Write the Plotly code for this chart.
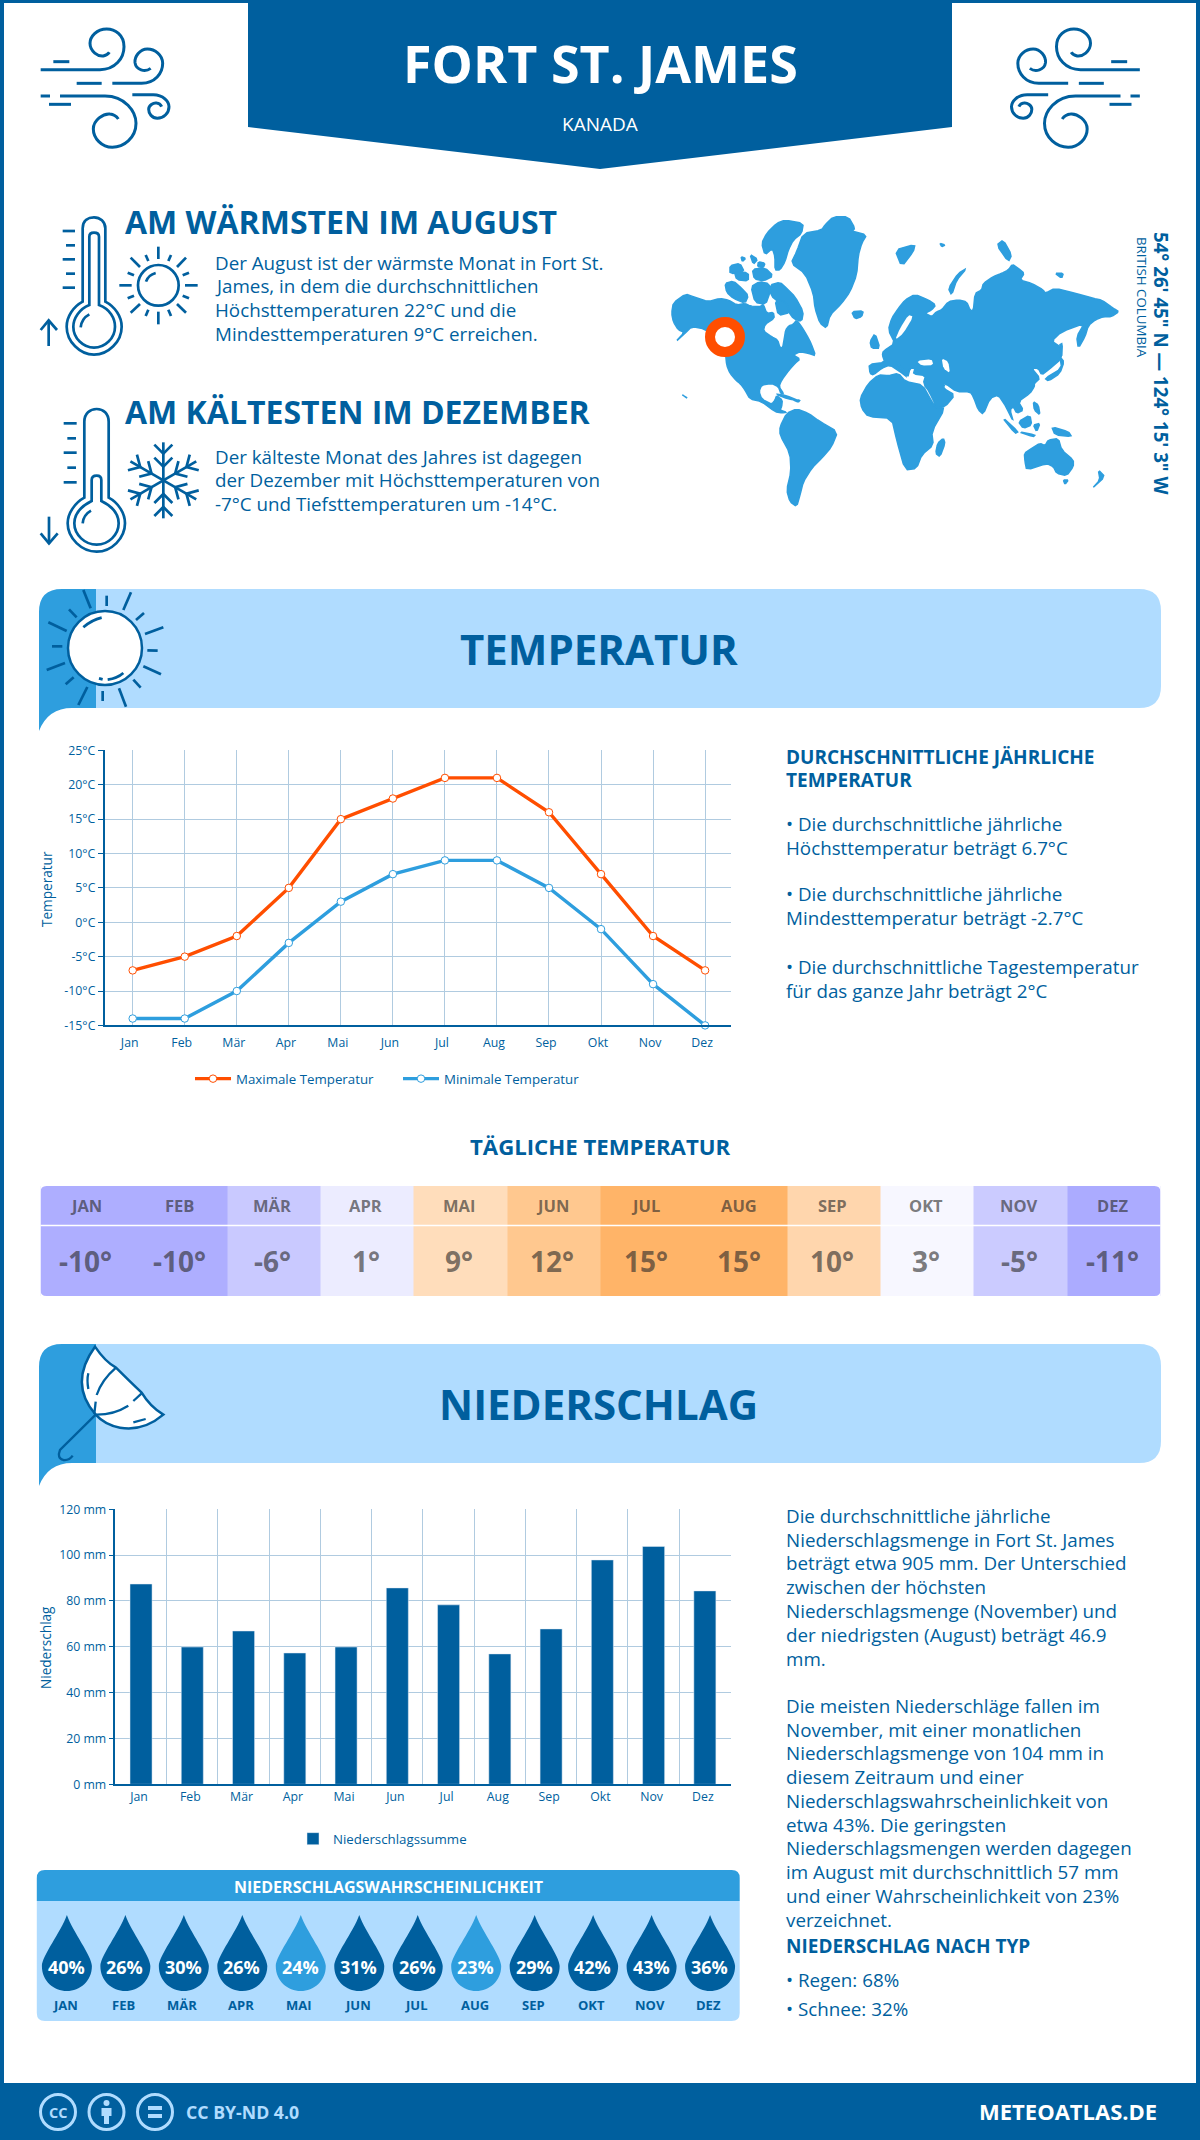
import re
import math
import plotly.graph_objects as go

# ---------- data ----------
MONTHS = ["Jan", "Feb", "Mär", "Apr", "Mai", "Jun", "Jul", "Aug", "Sep", "Okt", "Nov", "Dez"]
MONTHS_UP = ["JAN", "FEB", "MÄR", "APR", "MAI", "JUN", "JUL", "AUG", "SEP", "OKT", "NOV", "DEZ"]
TEMP_MAX = [-7, -5, -2, 5, 15, 18, 21, 21, 16, 7, -2, -7]
TEMP_MIN = [-14, -14, -10, -3, 3, 7, 9, 9, 5, -1, -9, -15]
TEMP_DAILY = [-10, -10, -6, 1, 9, 12, 15, 15, 10, 3, -5, -11]
PRECIP = [87.4, 59.9, 66.9, 57.3, 59.9, 85.7, 78.3, 56.9, 67.8, 97.9, 103.8, 84.4]
RAIN_PROB = [40, 26, 30, 26, 24, 31, 26, 23, 29, 42, 43, 36]
DAILY_SCALE_VALUES = [-11, -10, -6, -5, 1, 3, 9, 10, 12, 15]
DAILY_SCALE_COLORS = ["#ABABFF", "#AEAEFF", "#C9C9FF", "#CBCBFF", "#ECECFF", "#F7F7FF",
                      "#FFDDBB", "#FFD6AD", "#FFC88F", "#FFB468"]
TEMP_TICKS = [-15, -10, -5, 0, 5, 10, 15, 20, 25]
PRECIP_TICKS = [0, 20, 40, 60, 80, 100, 120]

WARM_LINES = ["Der August ist der wärmste Monat in Fort St.",
              "James, in dem die durchschnittlichen",
              "Höchsttemperaturen 22°C und die",
              "Mindesttemperaturen 9°C erreichen."]
COLD_LINES = ["Der kälteste Monat des Jahres ist dagegen",
              "der Dezember mit Höchsttemperaturen von",
              "-7°C und Tiefsttemperaturen um -14°C."]
TEMP_SIDE = [("DURCHSCHNITTLICHE JÄHRLICHE", 757, True), ("TEMPERATUR", 780, True),
             ("• Die durchschnittliche jährliche", 824, False),
             ("Höchsttemperatur beträgt 6.7°C", 848, False),
             ("• Die durchschnittliche jährliche", 894, False),
             ("Mindesttemperatur beträgt -2.7°C", 918, False),
             ("• Die durchschnittliche Tagestemperatur", 967, False),
             ("für das ganze Jahr beträgt 2°C", 991, False)]
PRECIP_SIDE = [("Die durchschnittliche jährliche", 1516), ("Niederschlagsmenge in Fort St. James", 1539.5),
               ("beträgt etwa 905 mm. Der Unterschied", 1563), ("zwischen der höchsten", 1587),
               ("Niederschlagsmenge (November) und", 1611), ("der niedrigsten (August) beträgt 46.9", 1634.5),
               ("mm.", 1658.5), ("Die meisten Niederschläge fallen im", 1706),
               ("November, mit einer monatlichen", 1729.5), ("Niederschlagsmenge von 104 mm in", 1753),
               ("diesem Zeitraum und einer", 1777), ("Niederschlagswahrscheinlichkeit von", 1801),
               ("etwa 43%. Die geringsten", 1824.5), ("Niederschlagsmengen werden dagegen", 1848),
               ("im August mit durchschnittlich 57 mm", 1872), ("und einer Wahrscheinlichkeit von 23%", 1896),
               ("verzeichnet.", 1919.5)]

# ---------- styling ----------
DARK = "#005F9E"
MID = "#2E9EDE"
LIGHT = "#B0DCFF"
ORANGE = "#FF4E00"
GRID = "#B0CBE0"
FONT = "Open Sans"
W, H = 1200, 2140
BODY = 18.8

shapes, notes = [], []


def add_path(path, fill=None, line=None, width=0):
    shapes.append(dict(type="path", path=path, xref="x4", yref="y4", layer="above", fillrule="nonzero",
                       fillcolor=fill if fill else "rgba(0,0,0,0)",
                       line=dict(color=line if line else "rgba(0,0,0,0)", width=width)))


def zoom_path(path, ox, oy):
    """Rescale a path sketched in 3x crop coordinates to page pixels."""
    idx = [0]

    def conv(m):
        v = float(m.group())
        o = ox if idx[0] % 2 == 0 else oy
        idx[0] += 1
        return f"{o + v / 3:.2f}"
    return re.sub(r"-?\d+\.?\d*", conv, path)


def mirror_path(path, axis):
    """Mirror a page-pixel path horizontally: x -> axis - x."""
    idx = [0]

    def conv(m):
        v = float(m.group())
        i = idx[0]
        idx[0] += 1
        return f"{axis - v:.2f}" if i % 2 == 0 else f"{v:.2f}"
    return re.sub(r"-?\d+\.?\d*", conv, path)


def rect(x0, y0, x1, y1, fill):
    add_path(f"M{x0},{y0}L{x1},{y0}L{x1},{y1}L{x0},{y1}Z", fill=fill)


def circle(cx, cy, r, fill=None, line=None, width=0):
    shapes.append(dict(type="circle", xref="x4", yref="y4", layer="above",
                       x0=cx - r, x1=cx + r, y0=cy - r, y1=cy + r,
                       fillcolor=fill if fill else "rgba(0,0,0,0)",
                       line=dict(color=line if line else "rgba(0,0,0,0)", width=width)))


def text(x, y, s, size, color=DARK, bold=False, anchor="left", angle=0):
    notes.append(dict(x=x, y=y, xref="x4", yref="y4", text=s, showarrow=False, xanchor=anchor, yanchor="middle",
                      textangle=angle, borderpad=0, borderwidth=0,
                      font=dict(family=FONT, size=size, color=color, weight=700 if bold else 400)))


# ---------- frame, header ----------
rect(0, 0, 4, H, DARK)
rect(W - 4, 0, W, H, DARK)
rect(0, 0, W, 3, DARK)
rect(0, 2083, W, H, DARK)
add_path("M248,0L952,0L952,127L600,169L248,127Z", fill=DARK)
text(600, 62, "FORT ST. JAMES", 52, "white", True, "center")
text(600, 124, "KANADA", 19, "white", False, "center")

WIND = ["M85,140L133,140",
        "M47,164L225,164C270,164 297,130 297,95C297,60 270,42 245,42C215,42 195,65 195,85C195,110 220,125 235,123Q248,120 253,112",
        "M155,205L230,205",
        "M262,205L350,205C390,205 413,175 413,145C413,120 390,102 367,102C345,102 328,125 330,143C333,165 360,173 377,160",
        "M47,243L75,243",
        "M105,243L240,243C300,243 333,290 333,325C333,370 295,397 262,397C230,397 205,370 205,342C205,315 235,295 255,297C268,298 275,305 280,312",
        "M72,268L138,268",
        "M322,239L385,239C415,239 432,260 432,275C432,295 415,310 397,310C380,310 371,295 371,283C371,272 385,262 395,264Q405,265 410,275"]
for p in WIND:
    px = zoom_path(p, 25, 15)
    add_path(px, line=DARK, width=3)
    add_path(mirror_path(px, 1180.5), line=DARK, width=3)

# ---------- thermometers and small icons ----------
ICON = [
    "M158,290L158,70C158,45 175,37 192,37C210,37 226,50 226,70L226,290C255,305 275,335 275,365C275,410 235,449 192,449C150,449 110,410 110,365C110,335 130,305 158,290Z",
    "M178,300L178,95Q178,83 192,83Q207,83 207,95L207,300C240,312 255,340 255,365C255,400 225,428 192,428C160,428 130,400 130,365C130,340 148,312 178,300Z",
    "M152,367Q155,340 178,328",
    "M98,78L135,78", "M108,121L135,121", "M98,163L135,163", "M108,206L135,206", "M98,248L135,248",
    "M56,423L56,346", "M32,375L56,346L81,375",
    "M385,125L385,162", "M385,320L385,358", "M268,241L305,241", "M465,241L503,241",
    "M302,158L330,186", "M468,158L441,186", "M302,323L330,297", "M468,323L441,297",
    "M347,150L355,168", "M423,150L415,168", "M293,203L312,211", "M477,203L458,211",
    "M293,280L312,272", "M477,280L458,272", "M355,314L347,333", "M415,314L423,333",
    "M348,230Q355,210 377,204",
    "M163,878L163,650C163,625 180,612 200,612C220,612 236,625 236,650L236,878C265,893 285,925 285,955C285,1000 245,1040 200,1040C155,1040 113,1000 113,955C113,925 135,893 163,878Z",
    "M185,888L185,825Q185,812 200,812Q214,812 214,825L214,888C245,903 266,925 266,955C266,990 235,1019 200,1019C165,1019 133,990 133,955C133,925 155,903 185,888Z",
    "M158,955Q160,930 183,917",
    "M101,655L140,655", "M112,700L138,700", "M101,743L140,743", "M112,788L138,788", "M101,832L140,832",
    "M57,935L57,1015", "M32,985L57,1015L83,985",
]
for p in ICON:
    add_path(zoom_path(p, 30, 205), line=DARK, width=2.7)
circle(30 + 385 / 3, 205 + 241 / 3, 61 / 3, line=DARK, width=2.7)


def rot(x, y, a):
    return x * math.cos(a) - y * math.sin(a), x * math.sin(a) + y * math.cos(a)


FLAKE_ARM = [[(0, 0), (0, -114)], [(-27, -107), (0, -80), (27, -107)], [(-27, -68), (0, -41), (27, -68)]]
for k in range(6):
    a = k * math.pi / 3
    for seg in FLAKE_ARM:
        pts = [rot(x, y, a) for x, y in seg]
        add_path("M" + "L".join(f"{30 + (400 + x) / 3:.2f},{205 + (826 + y) / 3:.2f}" for x, y in pts),
                 line=DARK, width=2.7)

text(125, 221, "AM WÄRMSTEN IM AUGUST", 32, DARK, True)
text(125, 411, "AM KÄLTESTEN IM DEZEMBER", 32, DARK, True)
for s, y in zip(WARM_LINES, [263, 286, 310, 334]):
    text(215, y, s, BODY)
for s, y in zip(COLD_LINES, [457, 480, 503.5]):
    text(215, y, s, BODY)

# ---------- world map ----------
LAND = [
    # North America
    "20,325 25,293 62,267 85,275 130,290 165,280 190,285 215,300 240,295 255,303 285,305 295,298 305,325 325,322 328,340 300,358 295,378 320,395 338,405 345,428 353,428 358,400 362,375 372,362 385,358 395,345 410,365 425,390 438,415 452,452 430,445 405,440 385,450 405,462 390,475 372,495 350,525 342,545 356,566 348,566 340,545 320,535 290,540 282,560 290,582 320,598 330,585 335,572 352,585 350,605 345,615 365,622 352,624 330,620 290,590 255,582 240,555 225,535 215,528 195,505 185,480 182,450 150,400 120,372 80,365 60,385 32,410 58,382 40,375 25,350",
    # Greenland
    "480,60 505,35 550,35 570,70 560,78 605,90 590,115 580,150 575,210 555,260 530,295 495,330 485,370 465,355 450,310 445,265 420,205 378,175 395,140 415,85 470,75",
    # Arctic islands
    "290,115 305,85 335,55 360,45 415,55 410,85 385,105 370,135 360,170 345,195 330,195 330,155 322,130 300,150",
    "315,240 345,232 365,250 390,275 415,320 410,350 385,340 372,322 345,295 318,272",
    "180,235 205,228 230,250 250,272 240,295 205,280 185,262", "195,182 225,175 238,200 195,207",
    "208,200 250,203 250,228 215,224", "262,193 300,188 325,213 295,228 268,222", "255,148 278,163 265,178",
    "283,230 312,236 315,262 302,298 270,292 258,245", "330,285 362,290 375,322 340,332", "228,155 242,160 232,170",
    "280,170 300,175 295,188 278,185",
    # Cuba, Hispaniola
    "330,567 365,572 400,587 370,582", "385,585 405,585 400,592",
    # South America
    "345,665 365,625 395,612 430,625 465,650 518,680 500,725 470,760 440,790 415,830 405,870 395,905 375,890 365,855 378,800 375,745 345,690",
    # Africa
    "585,580 610,535 640,510 670,512 700,505 722,530 775,540 800,595 815,610 840,610 800,680 805,720 770,750 755,790 720,795 695,705 680,640 610,635 590,610",
    "835,700 840,715 825,755 812,745 818,715",
    # Eurasia
    "615,505 612,478 660,472 652,450 655,438 690,415 670,375 680,340 700,310 720,285 750,268 790,285 812,300 800,315 780,325 800,335 815,320 830,315 850,290 880,285 905,290 915,315 925,318 930,265 950,255 955,235 985,215 1010,205 1030,195 1042,178 1060,190 1078,205 1065,225 1100,235 1135,255 1140,265 1170,250 1230,265 1285,280 1310,285 1345,310 1362,320 1340,335 1315,335 1290,345 1270,362 1260,395 1240,430 1235,395 1258,355 1190,380 1160,408 1185,425 1190,460 1150,495 1130,510 1120,490 1100,490 1125,520 1108,535 1108,545 1095,565 1060,590 1075,615 1055,625 1045,605 1035,615 1045,650 1025,610 1020,600 1000,570 975,580 955,628 940,615 925,575 915,560 875,560 840,535 835,550 870,570 840,605 810,610 775,535 782,512 745,507 750,490 735,490 728,518 712,490 690,465 725,515 705,500 675,480 650,490 625,510",
    # Islands of Eurasia and Oceania
    "630,385 645,430 620,430 615,410", "560,320 595,318 590,335 570,342", "690,135 750,118 745,140 710,185",
    "850,250 880,205 905,190 875,225 860,270", "995,120 1015,105 1040,150 1030,170", "825,115 840,120 830,125",
    "1170,205 1195,205 1190,220", "1140,520 1190,490 1185,455 1197,470 1185,505 1150,528",
    "1183,420 1192,415 1190,460", "1010,635 1060,680 1050,685", "1060,680 1110,690 1105,695",
    "1060,650 1095,630 1100,660 1075,670", "1105,660 1125,655 1115,680", "1160,665 1210,680 1220,695 1170,690",
    "1105,590 1120,600 1125,630 1108,615",
    "1078,745 1100,730 1125,715 1140,722 1150,705 1180,700 1190,735 1225,765 1225,785 1205,812 1175,805 1165,785 1145,775 1085,795 1080,770",
    "1195,825 1210,825 1200,838", "1300,795 1320,815 1280,852 1305,825", "50,568 68,580 60,575",
]
WATER = [
    "755,468 800,462 805,480 770,482", "830,460 850,470 855,505 835,490",
    "690,405 715,385 745,335 730,330 705,370", "775,540 812,605 790,560",
    "835,535 870,562 845,545",
]


def soften(pts):
    """One pass of corner cutting, so the sketched coastlines are not angular."""
    out = []
    n = len(pts)
    for i in range(n):
        (x0, y0), (x1, y1) = pts[i], pts[(i + 1) % n]
        out.append((0.8 * x0 + 0.2 * x1, 0.8 * y0 + 0.2 * y1))
        out.append((0.2 * x0 + 0.8 * x1, 0.2 * y0 + 0.8 * y1))
    return out


for poly in LAND:
    pts = soften([tuple(map(float, q.split(","))) for q in poly.split()])
    add_path("M" + "L".join(f"{665 + x / 3:.2f},{205 + y / 3:.2f}" for x, y in pts) + "Z",
             fill=MID, line=MID, width=1.5)
for poly in WATER:
    pts = soften([tuple(map(float, q.split(","))) for q in poly.split()])
    add_path("M" + "L".join(f"{665 + x / 3:.2f},{205 + y / 3:.2f}" for x, y in pts) + "Z", fill="white")
circle(725, 337, 15, fill="white", line=ORANGE, width=10)
text(1162, 364, "54° 26' 45\" N — 124° 15' 3\" W", 18.7, DARK, True, "center", 90)
text(1142, 297, "BRITISH COLUMBIA", 13.3, DARK, False, "center", 90)


# ---------- section bands ----------
def band(top, title, y_text):
    bottom = top + 119
    add_path(f"M39,{bottom + 23}L39,{top + 23}Q39,{top} 62,{top}L96,{top}L96,{bottom}L72,{bottom}Q48,{bottom} 39,{bottom + 23}Z",
             fill=MID)
    add_path(f"M96,{top}L1139,{top}Q1161,{top} 1161,{top + 22}L1161,{bottom - 22}Q1161,{bottom} 1139,{bottom}L96,{bottom}Z",
             fill=LIGHT)
    text(598.5, y_text, title, 42, DARK, True, "center")


band(589, "TEMPERATUR", 648)
band(1344, "NIEDERSCHLAG", 1403)

circle(105, 648, 37, fill="white", line=DARK, width=2.5)
SUN_RAYS = ["M160,15L182,70", "M230,32L230,63", "M303,22L280,75", "M342,84L318,105", "M400,127L345,147", "M383,197L352,196",
            "M393,268L340,244", "M332,308L310,284", "M288,365L267,310", "M218,348L218,318", "M145,360L172,306",
            "M107,298L131,277", "M50,255L105,234", "M66,184L97,184", "M55,112L110,138", "M117,73L140,97",
            "M160,127Q185,105 215,98", "M207,280L218,283", "M233,284Q262,280 280,264"]
for p in SUN_RAYS:
    add_path(zoom_path(p, 30, 585), line=DARK, width=2.7)

add_path(zoom_path("M195,20Q225,65 258,83Q300,125 335,158Q360,200 400,224Q340,275 270,263Q225,255 197,224Q115,130 195,20Z", 30, 1340),
         fill="white", line=DARK, width=2.5)
UMBRELLA = ["M258,83Q215,120 200,165", "M197,185L193,222", "M197,224Q250,225 295,197", "M310,183L335,160",
            "M310,247L347,237", "M175,100Q170,120 175,147",
            "M197,224L90,330Q80,355 100,360Q118,362 128,347"]
for p in UMBRELLA:
    add_path(zoom_path(p, 30, 1340), line=DARK, width=2.3)

# ---------- side texts ----------
for s, y, b in TEMP_SIDE:
    text(785.5, y, s, 19 if b else BODY, DARK, b)
for s, y in PRECIP_SIDE:
    text(785.5, y, s, BODY)
text(785.5, 1946, "NIEDERSCHLAG NACH TYP", 19, DARK, True)
text(785.5, 1980, "• Regen: 68%", BODY)
text(785.5, 2008.5, "• Schnee: 32%", BODY)

# ---------- daily temperature table ----------
text(600, 1146, "TÄGLICHE TEMPERATUR", 22.2, DARK, True, "center")
CELL_INK = "rgba(40,40,40,0.62)"
T_L, T_R, T_T, T_M, T_B = 40.5, 1160.5, 1186, 1225.5, 1296
cell = (T_R - T_L) / 12
for i, (m, t) in enumerate(zip(MONTHS_UP, TEMP_DAILY)):
    cx = T_L + cell * (i + 0.5)
    text(cx - 1.5, 1205.5, m, 16.5, CELL_INK, True, "center")
    text(cx - 1.5, 1261, f"{t}°", 28, CELL_INK, True, "center")
add_path(f"M{T_L},{T_M}L{T_R},{T_M}", line="white", width=1.5)
for cx, cy, sx, sy in [(T_L, T_T, 1, 1), (T_R, T_T, -1, 1), (T_L, T_B, 1, -1), (T_R, T_B, -1, -1)]:
    add_path(f"M{cx},{cy}L{cx + 6 * sx},{cy}Q{cx},{cy} {cx},{cy + 6 * sy}Z", fill="white")

# ---------- rain probability panel ----------
add_path("M36.8,1901L36.8,1878Q36.8,1870 44.8,1870L731.7,1870Q739.7,1870 739.7,1878L739.7,1901Z", fill=MID)
add_path("M36.8,1901L739.7,1901L739.7,2013Q739.7,2021 731.7,2021L44.8,2021Q36.8,2021 36.8,2013Z", fill=LIGHT)
text(388.5, 1887, "NIEDERSCHLAGSWAHRSCHEINLICHKEIT", 16, "white", True, "center")
for i, (m, v) in enumerate(zip(MONTHS_UP, RAIN_PROB)):
    cx = 66.9 + 58.47 * i
    col = MID if v < 25 else DARK
    add_path(f"M{cx},1915C{cx + 6},1932 {cx + 25},1956 {cx + 25},1966C{cx + 25},1981 {cx + 13},1991 {cx},1991"
             f"C{cx - 13},1991 {cx - 25},1981 {cx - 25},1966C{cx - 25},1956 {cx - 6},1932 {cx},1915Z", fill=col)
    text(cx - 0.5, 1967, f"{v}%", 18, "white", True, "center")
    text(cx - 1.5, 2004.5, m, 13, DARK, True, "center")

# ---------- footer ----------
for cx in (58, 106.5, 155):
    circle(cx, 2112, 17.5, line=LIGHT, width=3)
text(58, 2112, "CC", 14.5, LIGHT, True, "center")
circle(106.5, 2103, 3, fill=LIGHT)
add_path("M101.5,2108L111.5,2108L111.5,2116L109,2116L109,2124L104,2124L104,2116L101.5,2116Z", fill=LIGHT)
rect(148, 2106, 162, 2110, LIGHT)
rect(148, 2114, 162, 2118, LIGHT)
text(185.5, 2112, "CC BY-ND 4.0", 17.7, LIGHT, True)
text(1157, 2111, "METEOATLAS.DE", 22, "white", True, "right")

# axis titles
text(46, 889, "Temperatur", 13.6, DARK, False, "center", -90)
text(45, 1648, "Niederschlag", 13.6, DARK, False, "center", -90)

# ---------- figure ----------
fig = go.Figure()
for name, vals, col in [("Maximale Temperatur", TEMP_MAX, ORANGE), ("Minimale Temperatur", TEMP_MIN, MID)]:
    fig.add_trace(go.Scatter(x=MONTHS, y=vals, name=name, mode="lines+markers", xaxis="x", yaxis="y", legend="legend",
                             line=dict(color=col, width=3.4),
                             marker=dict(size=7.5, color="white", line=dict(color=col, width=1)),
                             cliponaxis=False))
fig.add_trace(go.Bar(x=MONTHS, y=PRECIP, name="Niederschlagssumme", xaxis="x2", yaxis="y2", legend="legend2",
                     marker=dict(color=DARK), width=0.43))
lo, hi = DAILY_SCALE_VALUES[0], DAILY_SCALE_VALUES[-1]
fig.add_trace(go.Heatmap(z=[TEMP_DAILY, TEMP_DAILY], y=[0, 70.5, 110], xaxis="x3", yaxis="y3", showscale=False,
                         hoverinfo="skip", zmin=lo, zmax=hi,
                         colorscale=[[(v - lo) / (hi - lo), c] for v, c in zip(DAILY_SCALE_VALUES, DAILY_SCALE_COLORS)]))


def dom_x(a, b):
    return [a / W, b / W]


def dom_y(top, bottom):
    return [1 - bottom / H, 1 - top / H]


tick_font = dict(family=FONT, size=12.3, color=DARK)
common_y = dict(showgrid=True, gridcolor=GRID, gridwidth=1, showline=True, linecolor=DARK, linewidth=1.5,
                ticks="outside", ticklen=5, tickcolor=DARK, tickfont=tick_font, zeroline=False, fixedrange=True)
common_x = dict(showgrid=True, gridcolor=GRID, gridwidth=1, showline=True, linecolor=DARK, linewidth=1.5,
                ticks="outside", tickcolor="rgba(0,0,0,0)", tickfont=tick_font, zeroline=False,
                fixedrange=True, type="category", categoryorder="array", categoryarray=MONTHS)

fig.update_layout(
    width=W, height=H, margin=dict(l=0, r=0, t=0, b=0, pad=0, autoexpand=False),
    paper_bgcolor="white", plot_bgcolor="rgba(0,0,0,0)",
    font=dict(family=FONT, color=DARK), hovermode=False, bargap=0.57,
    shapes=shapes, annotations=notes,
    xaxis=dict(domain=dom_x(104.6, 730.6), range=[-0.54, 11.49], anchor="y", ticklabelshift=-3, ticklen=5, **common_x),
    yaxis=dict(domain=dom_y(750.4, 1025.4), range=[-15, 25], anchor="x", tickvals=TEMP_TICKS,
               ticktext=[f"{v}°C" for v in TEMP_TICKS], **common_y),
    xaxis2=dict(domain=dom_x(115.4, 730.5), range=[-0.5, 11.5], anchor="y2", tickson="boundaries", ticklabelshift=-2,
                ticklen=14, **common_x),
    yaxis2=dict(domain=dom_y(1509.3, 1784.3), range=[0, 120], anchor="x2", tickvals=PRECIP_TICKS,
                ticktext=[f"{v} mm" for v in PRECIP_TICKS], **common_y),
    xaxis3=dict(domain=dom_x(T_L, T_R), range=[-0.5, 11.5], anchor="y3", visible=False, fixedrange=True),
    yaxis3=dict(domain=dom_y(T_T, T_B), range=[0, 110], anchor="x3", visible=False, fixedrange=True),
    xaxis4=dict(domain=[0, 1], range=[0, W], anchor="y4", visible=False, fixedrange=True),
    yaxis4=dict(domain=[0, 1], range=[H, 0], anchor="x4", visible=False, fixedrange=True),
    legend=dict(orientation="h", x=190 / W, y=1 - 1079 / H, xanchor="left", yanchor="middle", itemwidth=36,
                entrywidth=157, entrywidthmode="pixels",
                font=dict(family=FONT, size=13.3, color=DARK), bgcolor="rgba(0,0,0,0)"),
    legend2=dict(orientation="h", x=293 / W, y=1 - 1839 / H, xanchor="left", yanchor="middle", itemwidth=30,
                 font=dict(family=FONT, size=13.3, color=DARK), bgcolor="rgba(0,0,0,0)"),
)

fig.write_html("out.html", config={"displayModeBar": False},
               post_script="document.body.style.margin='0';document.body.style.overflow='hidden';")
